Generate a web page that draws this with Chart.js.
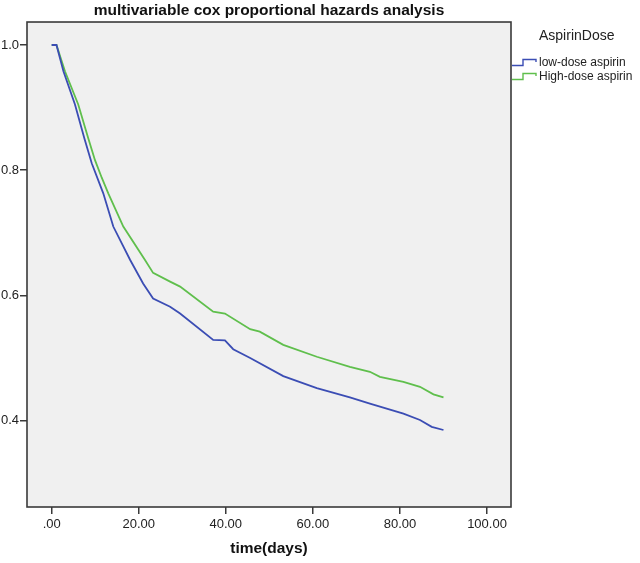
<!DOCTYPE html>
<html>
<head>
<meta charset="utf-8">
<script src="https://cdn.jsdelivr.net/npm/chart.js@4.4.0/dist/chart.umd.min.js"></script>
<style>
  html, body { margin: 0; padding: 0; background: #ffffff; }
  #wrap { width: 640px; height: 563px; }
</style>
</head>
<body>
<div id="wrap"><canvas id="survival" width="640" height="563"></canvas></div>
<script>
// values
const chartTitle = "multivariable cox proportional hazards analysis";
const xTitle = "time(days)";
const legendTitle = "AspirinDose";
const seriesNames = ["low-dose aspirin", "High-dose aspirin"];
const lineColors = ["#3b4db4", "#5fbf4c"];

const lowTime = [0, 1.1, 2.7, 5.35, 7.5, 9.2, 11.85, 14.15, 18.0, 21.0, 23.3, 27.2, 29.5, 37.1, 39.8, 41.7, 45.6, 53.2, 60.9, 68.5, 73.1, 80.8, 84.6, 87.3, 90.0];
const lowSurv = [1.0, 1.0, 0.958, 0.905, 0.851, 0.811, 0.763, 0.710, 0.657, 0.619, 0.595, 0.582, 0.571, 0.529, 0.528, 0.514, 0.500, 0.471, 0.452, 0.437, 0.427, 0.411, 0.401, 0.390, 0.385];

const highTime = [0, 1.1, 3.05, 6.1, 8.4, 9.95, 11.5, 13.0, 16.45, 21.4, 23.3, 27.2, 29.5, 37.1, 39.8, 45.6, 47.8, 53.2, 60.9, 68.5, 73.1, 75.4, 80.8, 84.6, 87.7, 90.0];
const highSurv = [1.0, 1.0, 0.958, 0.905, 0.851, 0.816, 0.788, 0.763, 0.710, 0.657, 0.636, 0.622, 0.614, 0.574, 0.571, 0.546, 0.542, 0.521, 0.502, 0.486, 0.478, 0.470, 0.462, 0.454, 0.442, 0.437];

const xTicks = [0, 20, 40, 60, 80, 100];
const yTicks = [0.4, 0.6, 0.8, 1.0];

const fontFamily = "'Liberation Sans', Arial, sans-serif";
const frameColor = "#3a3a3a";

//pair up times and survival values for the line
const toPoints = (ts, vs) => ts.map((t, i) => ({ x: t, y: vs[i] }));

//grey plot background and box frame like spss
const plotFrame = {
  id: "plotFrame",
  beforeDraw(chart) {
    const { ctx, chartArea: a } = chart;
    ctx.save();
    ctx.fillStyle = "#f0f0f0";
    ctx.fillRect(a.left, a.top, a.right - a.left, a.bottom - a.top);
    ctx.restore();
  },
  afterDraw(chart) {
    const { ctx, chartArea: a } = chart;
    ctx.save();
    ctx.strokeStyle = frameColor;
    ctx.lineWidth = 1.6;
    ctx.strokeRect(a.left, a.top, a.right - a.left, a.bottom - a.top);
    ctx.restore();
  },
};

//legend on the right with little step icons
const stepLegend = {
  id: "stepLegend",
  afterDraw(chart) {
    const ctx = chart.ctx;
    const x0 = chart.chartArea.right + 1;
    ctx.save();
    ctx.fillStyle = "#222222";
    ctx.textBaseline = "middle";
    ctx.font = "14px " + fontFamily;
    ctx.fillText(legendTitle, x0 + 27, 36);
    ctx.font = "12px " + fontFamily;
    seriesNames.forEach((name, i) => {
      const y = 63 + i * 14;
      ctx.strokeStyle = lineColors[i];
      ctx.lineWidth = 1.4;
      ctx.beginPath();
      ctx.moveTo(x0, y + 2.5);
      ctx.lineTo(x0 + 11, y + 2.5);
      ctx.lineTo(x0 + 11, y - 3.5);
      ctx.lineTo(x0 + 24, y - 3.5);
      ctx.lineTo(x0 + 24, y - 1);
      ctx.stroke();
      ctx.fillText(name, x0 + 27, y);
    });
    ctx.restore();
  },
};

let survivalChart = new Chart(document.getElementById("survival"), {
  type: "line",
  plugins: [plotFrame, stepLegend],
  data: {
    datasets: [
      {
        label: seriesNames[0],
        data: toPoints(lowTime, lowSurv),
        borderColor: lineColors[0],
        borderWidth: 1.8,
        pointRadius: 0,
        tension: 0,
      },
      {
        label: seriesNames[1],
        data: toPoints(highTime, highSurv),
        borderColor: lineColors[1],
        borderWidth: 1.8,
        pointRadius: 0,
        tension: 0,
      },
    ],
  },
  options: {
    responsive: false,
    animation: false,
    layout: { padding: { left: 0, right: 129, top: 0, bottom: 0 } },
    plugins: {
      legend: { display: false },
      tooltip: { enabled: false },
      title: {
        display: true,
        text: chartTitle,
        fullSize: false,
        color: "#111111",
        font: { family: fontFamily, size: 15.5, weight: "bold", lineHeight: 1.42 },
        padding: { top: 0, bottom: 0 },
      },
    },
    scales: {
      x: {
        type: "linear",
        min: -5.67,
        max: 105.51,
        afterBuildTicks: (scale) => {
          scale.ticks = xTicks.map((v) => ({ value: v }));
        },
        afterFit: (scale) => {
          scale.height = 56;
        },
        grid: { drawOnChartArea: false, drawTicks: true, tickLength: 7, color: frameColor, lineWidth: 1.5 },
        border: { display: false },
        ticks: {
          color: "#222222",
          padding: 3,
          maxRotation: 0,
          font: { family: fontFamily, size: 13 },
          callback: (v) => (v === 0 ? ".00" : v.toFixed(2)),
        },
        title: {
          display: true,
          text: xTitle,
          color: "#111111",
          font: { family: fontFamily, size: 15.5, weight: "bold", lineHeight: 1.2 },
          padding: { top: 0, bottom: 5 },
        },
      },
      y: {
        type: "linear",
        min: 0.262,
        max: 1.0367,
        afterBuildTicks: (scale) => {
          scale.ticks = yTicks.map((v) => ({ value: v }));
        },
        afterFit: (scale) => {
          scale.width = 27;
        },
        grid: { drawOnChartArea: false, drawTicks: true, tickLength: 7, color: frameColor, lineWidth: 1.5 },
        border: { display: false },
        ticks: {
          color: "#222222",
          padding: 1,
          font: { family: fontFamily, size: 13 },
          callback: (v) => v.toFixed(1),
        },
      },
    },
  },
});
</script>
</body>
</html>
